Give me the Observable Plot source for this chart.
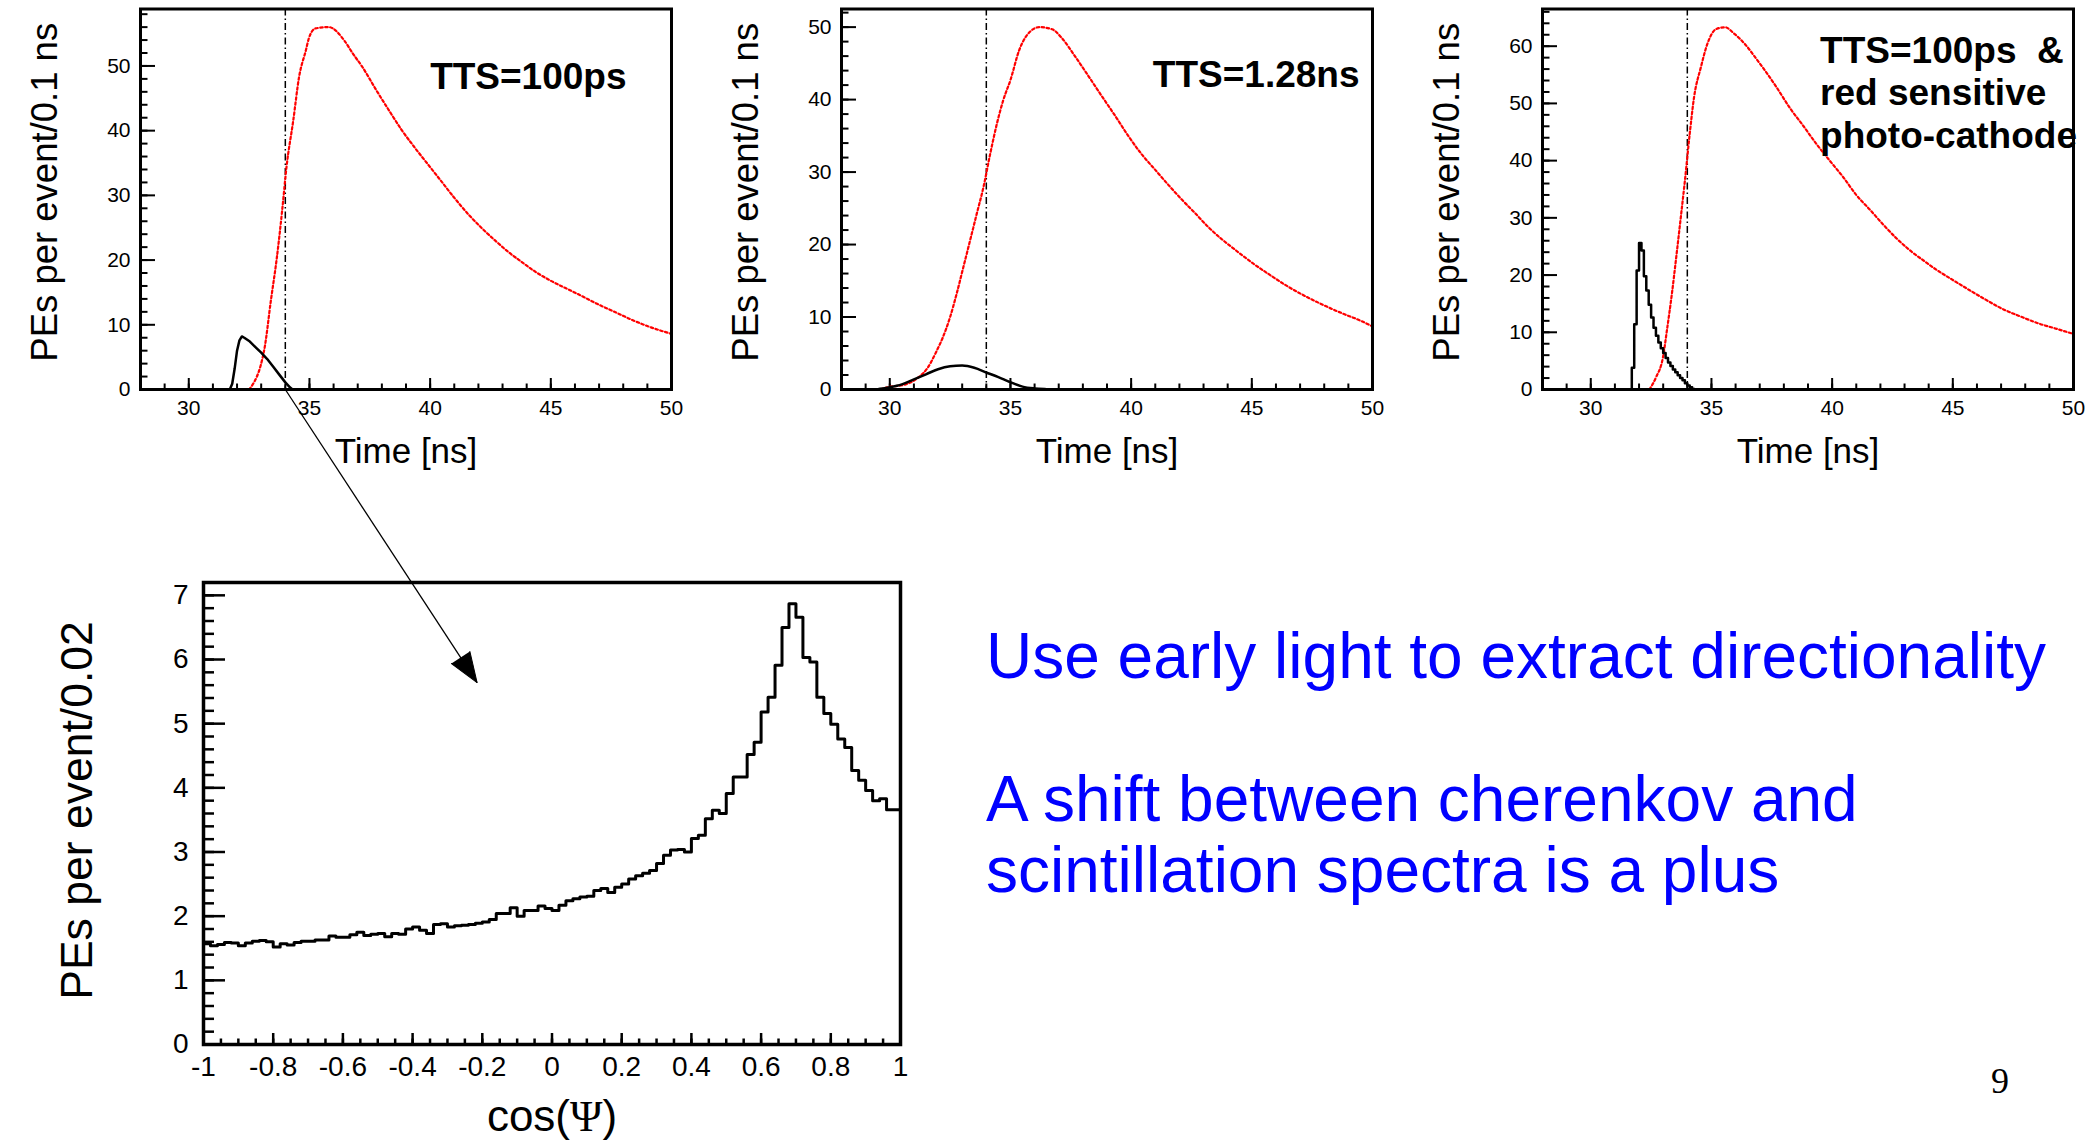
<!DOCTYPE html>
<html>
<head>
<meta charset="utf-8">
<script src="https://cdn.jsdelivr.net/npm/d3@7"></script>
<script src="https://cdn.jsdelivr.net/npm/@observablehq/plot@0.6"></script>
<style>
  html, body { margin: 0; padding: 0; background: #fff; }
  #page { position: relative; width: 2093px; height: 1144px; overflow: hidden; background: #fff; }
  #page > svg, #page > div { position: absolute; }
</style>
</head>
<body>
<div id="page"></div>
<script>
// ---------------- DATA ----------------
// Panel 1: TTS = 100 ps
const timeRed1 = [32.5, 33.13, 33.4, 33.65, 33.87, 34.05, 34.33, 34.57, 34.85, 34.97, 35.25, 35.8, 36.45, 36.8, 37.2, 37.73, 38.3, 38.84, 39.4, 39.95, 40.5, 41.05, 41.6, 42.15, 42.7, 43.26, 43.8, 44.36, 45.0, 45.65, 46.2, 46.94, 47.7, 48.4, 49.15, 50.0];
const red1     = [0, 6.2, 13.7, 20.4, 27.7, 34.4, 41.6, 48.3, 52.4, 54.2, 55.8, 56.0, 53.9, 51.9, 49.8, 46.5, 43.1, 40.0, 37.2, 34.6, 32.0, 29.4, 27.0, 24.9, 23.0, 21.2, 19.7, 18.2, 16.8, 15.6, 14.6, 13.2, 11.9, 10.7, 9.6, 8.6];
const timeBlack1 = [31.7, 31.8, 31.9, 32.0, 32.1, 32.2, 32.3, 32.5, 32.75, 33.0, 33.25, 33.5, 33.75, 34.0, 34.2, 34.3];
const black1     = [0, 0.9, 3.2, 6.0, 7.6, 8.2, 8.0, 7.5, 6.6, 5.7, 4.7, 3.5, 2.3, 1.1, 0.3, 0];

// Panel 2: TTS = 1.28 ns
const timeRed2 = [29.6, 29.9, 30.65, 31.2, 31.57, 31.94, 32.2, 32.5, 32.77, 33.05, 33.33, 33.6, 33.88, 34.16, 34.44, 34.7, 35.0, 35.36, 35.82, 36.2, 36.73, 37.1, 37.67, 38.2, 38.8, 39.33, 39.9, 40.45, 41.0, 41.55, 42.1, 42.66, 43.2, 43.77, 44.3, 45.05, 45.8, 46.5, 47.26, 48.0, 48.75, 49.5, 50.0];
const red2     = [0, 0.3, 0.7, 1.7, 3.0, 5.3, 7.2, 10.0, 13.2, 16.9, 20.6, 24.2, 27.9, 32.5, 36.7, 39.9, 42.7, 46.8, 49.4, 50.0, 49.7, 48.6, 46.0, 43.4, 40.4, 37.8, 34.9, 32.4, 30.3, 28.2, 26.2, 24.3, 22.4, 20.7, 19.3, 17.4, 15.7, 14.2, 12.8, 11.6, 10.5, 9.5, 8.7];
const timeBlack2 = [29.0, 29.5, 30.0, 30.5, 31.0, 31.5, 32.0, 32.5, 33.0, 33.5, 34.0, 34.5, 35.0, 35.5, 36.0, 36.5, 37.0];
const black2     = [0, 0.05, 0.3, 0.7, 1.4, 2.1, 2.8, 3.2, 3.3, 3.0, 2.35, 1.7, 1.0, 0.4, 0.15, 0.05, 0];

// Panel 3: TTS = 100 ps & red sensitive photo-cathode
const timeRed3 = [32.43, 32.7, 32.99, 33.17, 33.36, 33.54, 33.73, 33.9, 34.1, 34.28, 34.56, 34.83, 35.2, 35.57, 35.94, 36.4, 36.77, 37.14, 37.7, 38.25, 38.8, 39.35, 39.9, 40.46, 41.0, 41.57, 42.1, 42.67, 43.2, 43.8, 44.33, 44.9, 45.6, 46.36, 47.1, 47.84, 48.58, 49.3, 50.0];
const red3     = [0, 2.1, 5.6, 10.8, 16.7, 23.1, 30.1, 36.5, 44.7, 51.1, 56.3, 60.4, 63.0, 63.3, 62.2, 60.3, 58.3, 56.2, 52.8, 49.2, 46.1, 42.9, 40.0, 37.1, 34.0, 31.4, 28.9, 26.4, 24.4, 22.5, 20.9, 19.4, 17.6, 15.7, 14.0, 12.7, 11.5, 10.6, 9.7];
const timeBlack3 = [31.6, 31.7, 31.8, 31.9, 32.0, 32.1, 32.2, 32.3, 32.4, 32.5, 32.6, 32.7, 32.8, 32.9, 33.0, 33.1, 33.2, 33.3, 33.4, 33.5, 33.6, 33.7, 33.8, 33.9, 34.0, 34.1, 34.2, 34.3];
const black3     = [0, 3.8, 11.4, 20.8, 25.6, 24.3, 19.8, 17.3, 14.8, 12.6, 10.8, 9.4, 8.2, 7.2, 6.4, 5.5, 4.7, 4.1, 3.5, 3.0, 2.5, 2.0, 1.6, 1.1, 0.7, 0.4, 0.1, 0];

// Bottom: cos(Psi) distribution, 100 bins of 0.02 from -1 to 1
const cosPsiValues = [
  1.57, 1.54, 1.56, 1.59, 1.58, 1.54, 1.58, 1.61, 1.62, 1.60,
  1.52, 1.57, 1.55, 1.59, 1.61, 1.61, 1.63, 1.63, 1.69, 1.67,
  1.67, 1.71, 1.75, 1.70, 1.72, 1.73, 1.68, 1.73, 1.72, 1.80,
  1.83, 1.78, 1.73, 1.87, 1.88, 1.83, 1.85, 1.86, 1.87, 1.89,
  1.91, 1.95, 2.04, 2.04, 2.13, 2.00, 2.09, 2.09, 2.16, 2.12,
  2.09, 2.17, 2.24, 2.27, 2.30, 2.31, 2.40, 2.43, 2.37, 2.45,
  2.50, 2.58, 2.63, 2.67, 2.71, 2.82, 2.95, 3.03, 3.04, 3.00,
  3.21, 3.26, 3.52, 3.65, 3.60, 3.91, 4.17, 4.17, 4.52, 4.71,
  5.18, 5.41, 5.91, 6.50, 6.87, 6.66, 6.03, 5.96, 5.41, 5.16,
  4.99, 4.76, 4.63, 4.27, 4.12, 3.96, 3.80, 3.83, 3.66, 3.66
];

// Tick labels
const timeTicks = [30, 35, 40, 45, 50];
const yTicks1 = [0, 10, 20, 30, 40, 50];
const yTicks2 = [0, 10, 20, 30, 40, 50];
const yTicks3 = [0, 10, 20, 30, 40, 50, 60];
const cosTicks = [-1, -0.8, -0.6, -0.4, -0.2, 0, 0.2, 0.4, 0.6, 0.8, 1];
const cosYTicks = [0, 1, 2, 3, 4, 5, 6, 7];

// Texts
const panelLabels = ["TTS=100ps", "TTS=1.28ns", "TTS=100ps\u00a0\u00a0&\nred sensitive\nphoto-cathode"];
const timeAxisTitle = "Time [ns]";
const timeYTitle = "PEs per event/0.1 ns";
const cosAxisTitle = "cos(Ψ)";
const cosYTitle = "PEs per event/0.02";
const cutTime = 34;               // early-light cut (dash-dotted line)
const arrowTarget = {x: -0.215, y: 5.64};  // arrow tip in the cos(Psi) frame
const bulletText = ["Use early light to extract directionality", "A shift between cherenkov and", "scintillation spectra is a plus"];
const pageNumber = "9";

// ---------------- DRAWING ----------------
const FONT = "'Liberation Sans', Arial, Helvetica, sans-serif";
const page = document.getElementById("page");

function zip(xs, ys) { return xs.map((x, i) => ({x, y: ys[i]})); }

function topPanel(cfg) {
  const W = cfg.width, H = 480, mT = 8.5, mB = 91;
  const innerH = H - mT - mB, innerW = W - cfg.mL - cfg.mR;
  const minorX = d3.range(29, 50, 1);
  const minorY = d3.range(2, cfg.yMax, 2);
  const p = Plot.plot({
    width: W, height: H,
    marginLeft: cfg.mL, marginRight: cfg.mR, marginTop: mT, marginBottom: mB,
    x: {domain: [28, 50]},
    y: {domain: [0, cfg.yMax]},
    style: {fontFamily: FONT, overflow: "visible", background: "transparent", color: "black"},
    marks: [
      Plot.ruleX(minorX, {stroke: "black", strokeWidth: 2, insetTop: innerH - 5.5}),
      Plot.ruleX(timeTicks, {stroke: "black", strokeWidth: 2, insetTop: innerH - 11}),
      Plot.ruleY(minorY, {stroke: "black", strokeWidth: 2, insetRight: innerW - 7.5}),
      Plot.ruleY(cfg.yTicks, {stroke: "black", strokeWidth: 2, insetRight: innerW - 15}),
      Plot.ruleX([cutTime], {stroke: "black", strokeWidth: 1.5, strokeDasharray: "7,3,1.5,3"}),
      Plot.line(zip(cfg.redT, cfg.redV), {x: "x", y: "y", stroke: "#ff0000", strokeWidth: 2.2, strokeDasharray: "2.5,2.5", curve: "monotone-x"}),
      Plot.line(zip(cfg.blackT, cfg.blackV), {x: "x", y: "y", stroke: "black", strokeWidth: 2.5, curve: cfg.blackCurve}),
      Plot.frame({stroke: "black", strokeWidth: 3}),
      Plot.axisX(timeTicks, {tickSize: 0, tickPadding: 11, fontSize: 21, label: null, tickFormat: d => String(d)}),
      Plot.axisY(cfg.yTicks, {tickSize: 0, tickPadding: 10, fontSize: 21, label: null, tickFormat: d => String(d)}),
      Plot.text([timeAxisTitle], {frameAnchor: "bottom", dy: 73, textAnchor: "middle", lineAnchor: "bottom", fontSize: 35}),
      Plot.text([timeYTitle], {frameAnchor: "left", dx: -84, dy: -7, rotate: -90, textAnchor: "middle", lineAnchor: "bottom", fontSize: 36.5}),
      Plot.text([{x: cfg.labelX, y: cfg.labelY, t: cfg.label}], {x: "x", y: "y", text: "t", textAnchor: "start", lineAnchor: "bottom", lineHeight: 1.15, fontSize: 37, fontWeight: "bold"})
    ]
  });
  p.style.left = cfg.left + "px";
  p.style.top = "0px";
  page.appendChild(p);
  return p;
}

const p1 = topPanel({left: 0, width: 700, mL: 140, mR: 29, yMax: 58.8, yTicks: yTicks1,
  redT: timeRed1, redV: red1, blackT: timeBlack1, blackV: black1, blackCurve: "linear",
  label: panelLabels[0], labelX: 40.0, labelY: 46.5});
const p2 = topPanel({left: 700, width: 700, mL: 141, mR: 28, yMax: 52.5, yTicks: yTicks2,
  redT: timeRed2, redV: red2, blackT: timeBlack2, blackV: black2, blackCurve: "monotone-x",
  label: panelLabels[1], labelX: 40.9, labelY: 41.7});
const p3 = topPanel({left: 1400, width: 693, mL: 142, mR: 20, yMax: 66.5, yTicks: yTicks3,
  redT: timeRed3, redV: red3, blackT: timeBlack3, blackV: black3, blackCurve: "step-after",
  label: panelLabels[2], labelX: 39.5, labelY: 42.2});

// Bottom histogram
const binEdges = cosPsiValues.map((v, i) => -1 + 0.02 * i);
const histPts = binEdges.map((x, i) => ({x, y: cosPsiValues[i]}));
histPts.push({x: 1, y: cosPsiValues[cosPsiValues.length - 1]});
{
  const W = 940, H = 584, mL = 203, mR = 40, mT = 22, mB = 100;
  const innerH = H - mT - mB, innerW = W - mL - mR;
  const minorX = d3.range(-0.95, 0.96, 0.05);
  const minorY = d3.range(0.2, 7.2, 0.2);
  var pb = Plot.plot({
    width: W, height: H, marginLeft: mL, marginRight: mR, marginTop: mT, marginBottom: mB,
    x: {domain: [-1, 1]},
    y: {domain: [0, 7.2]},
    style: {fontFamily: FONT, overflow: "visible", background: "transparent", color: "black"},
    marks: [
      Plot.ruleX(minorX, {stroke: "black", strokeWidth: 2.5, insetTop: innerH - 5.5}),
      Plot.ruleX(cosTicks, {stroke: "black", strokeWidth: 2.5, insetTop: innerH - 11}),
      Plot.ruleY(minorY, {stroke: "black", strokeWidth: 2.5, insetRight: innerW - 11}),
      Plot.ruleY(cosYTicks, {stroke: "black", strokeWidth: 2.5, insetRight: innerW - 22}),
      Plot.line(histPts, {x: "x", y: "y", stroke: "black", strokeWidth: 3, curve: "step-after"}),
      Plot.frame({stroke: "black", strokeWidth: 3.5}),
      Plot.axisX(cosTicks, {tickSize: 0, tickPadding: 12, fontSize: 28, label: null, tickFormat: d => String(d)}),
      Plot.axisY(cosYTicks, {tickSize: 0, tickPadding: 15, fontSize: 28, label: null, tickFormat: d => String(d)}),
      Plot.text([cosAxisTitle], {frameAnchor: "bottom", dy: 86, textAnchor: "middle", lineAnchor: "bottom", fontSize: 44}),
      Plot.text([cosYTitle], {frameAnchor: "left", dx: -112, dy: -3, rotate: -90, textAnchor: "middle", lineAnchor: "bottom", fontSize: 44.5})
    ]
  });
  pb.style.left = "0px";
  pb.style.top = "560px";
  page.appendChild(pb);
  // Psi in a serif face, as in the original
  d3.select(pb).selectAll("text").each(function() {
    if (this.textContent === cosAxisTitle) {
      const t = d3.select(this);
      t.text(null);
      t.append("tspan").text("cos(");
      t.append("tspan").attr("font-family", "'Liberation Serif', 'Times New Roman', serif").text("Ψ");
      t.append("tspan").text(")");
    }
  });
}

// Arrow from the cut on panel 1 to the cos(Psi) histogram, through the plots' scales
{
  const x1 = 0 + p1.scale("x").apply(cutTime);
  const y1 = 0 + p1.scale("y").apply(0);
  const x2 = 0 + pb.scale("x").apply(arrowTarget.x);
  const y2 = 560 + pb.scale("y").apply(arrowTarget.y);
  const angle = Math.atan2(x2 - x1, -(y2 - y1)) * 180 / Math.PI;
  const seg = [{x1, y1, x2, y2}];
  const ov = Plot.plot({
    width: 2093, height: 1144, margin: 0,
    x: {type: "identity", axis: null},
    y: {type: "identity", axis: null},
    style: {overflow: "visible", background: "transparent"},
    marks: [
      Plot.link(seg, {x1: "x1", y1: "y1", x2: "x2", y2: "y2", stroke: "black", strokeWidth: 1.3}),
      Plot.vector(seg, {x: "x2", y: "y2", anchor: "end", length: 30, rotate: angle, shape: "spike", r: 11,
        fill: "black", fillOpacity: 1, stroke: "black", strokeWidth: 1})
    ]
  });
  ov.style.left = "0px";
  ov.style.top = "0px";
  ov.style.pointerEvents = "none";
  page.appendChild(ov);
}

// Slide text
{
  const svg = d3.create("svg").attr("width", 2093).attr("height", 1144)
    .style("left", "0px").style("top", "0px").style("pointer-events", "none");
  const baselines = [678, 821, 892];
  bulletText.forEach((t, i) => {
    svg.append("text").attr("x", 986).attr("y", baselines[i])
      .attr("font-family", FONT).attr("font-size", 64).attr("fill", "#0000ff").text(t);
  });
  svg.append("text").attr("x", 2000).attr("y", 1093).attr("text-anchor", "middle")
    .attr("font-family", "'Liberation Serif', 'Times New Roman', serif").attr("font-size", 36)
    .attr("fill", "black").text(pageNumber);
  page.appendChild(svg.node());
}
</script>
</body>
</html>
